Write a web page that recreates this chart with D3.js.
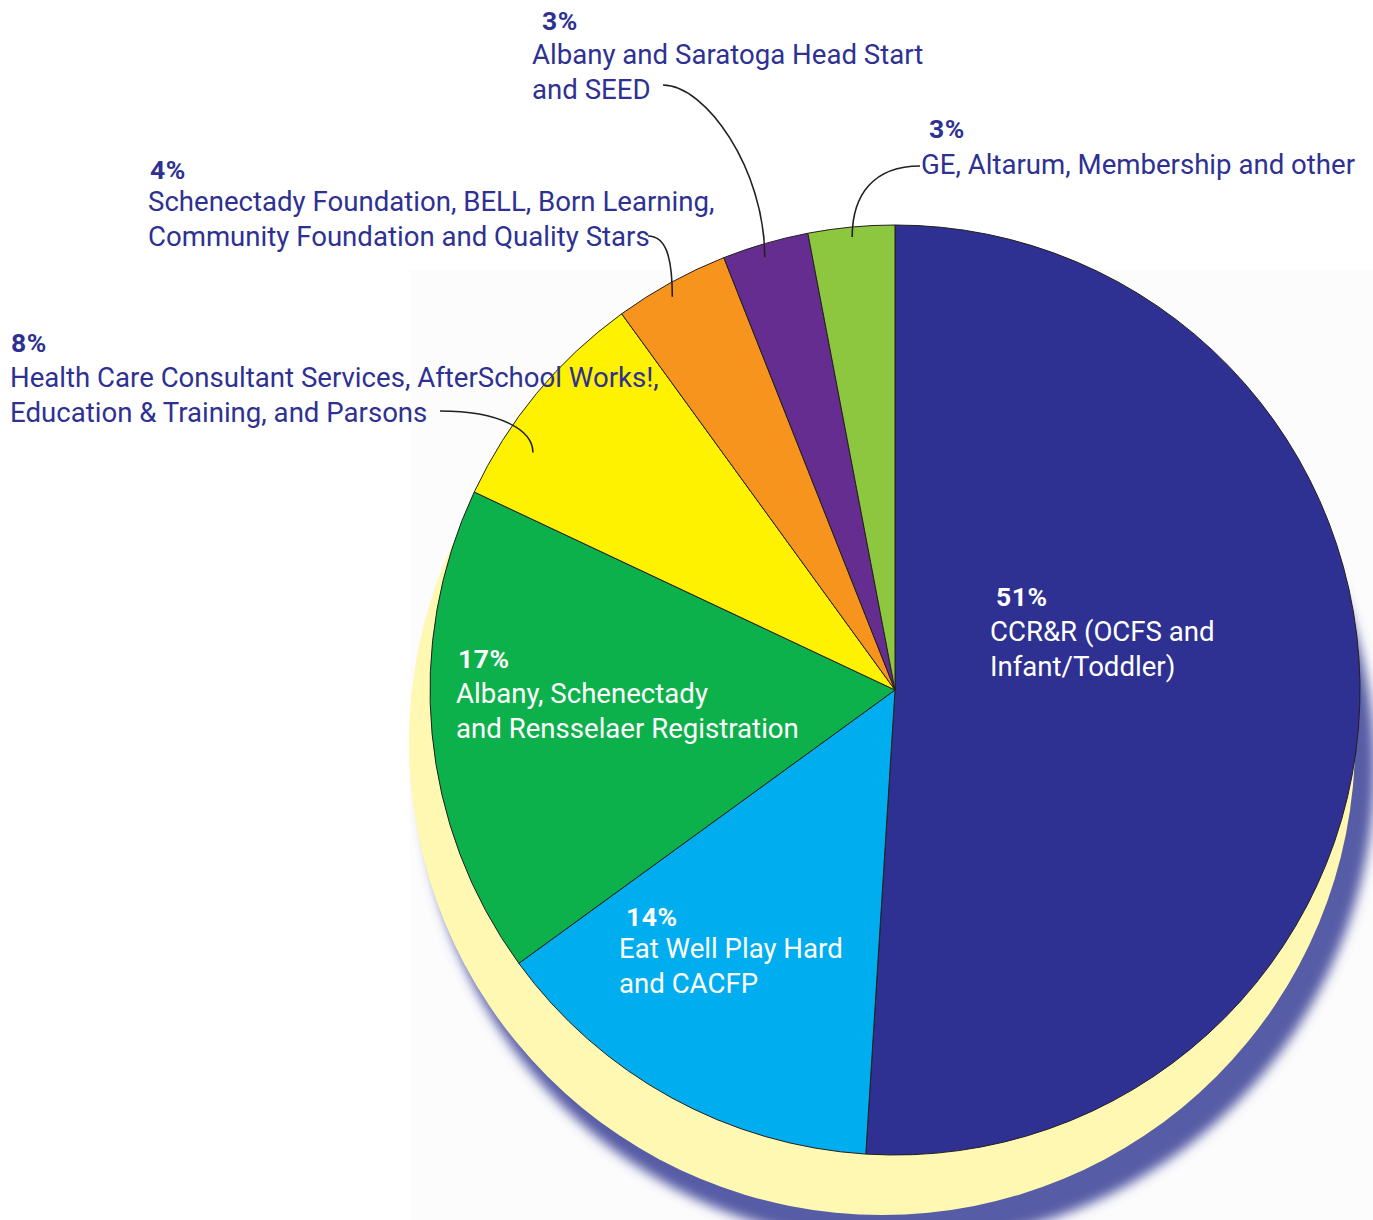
<!DOCTYPE html>
<html>
<head>
<meta charset="utf-8">
<script src="https://cdn.jsdelivr.net/npm/d3@7"></script>
<style>
  html, body { margin: 0; padding: 0; background: #ffffff; }
  svg { display: block; }
  .pct { font-family: Roboto, sans-serif; font-weight: 700; font-size: 26.5px; letter-spacing: 0.6px; }
  .lbl { font-family: Roboto, sans-serif; font-weight: 400; font-size: 27.6px; }
</style>
</head>
<body>
<div id="chart"></div>
<script>
// slices, clockwise from 12 o'clock
const categories = [
  "CCR&R (OCFS and Infant/Toddler)",
  "Eat Well Play Hard and CACFP",
  "Albany, Schenectady and Rensselaer Registration",
  "Health Care Consultant Services, AfterSchool Works!, Education & Training, and Parsons",
  "Schenectady Foundation, BELL, Born Learning, Community Foundation and Quality Stars",
  "Albany and Saratoga Head Start and SEED",
  "GE, Altarum, Membership and other"
];
const values = [51, 14, 17, 8, 4, 3, 3];
const pctLabels = ["51%", "14%", "17%", "8%", "4%", "3%", "3%"];
const labelLines = [
  ["CCR&R (OCFS and", "Infant/Toddler)"],
  ["Eat Well Play Hard", "and CACFP"],
  ["Albany, Schenectady", "and Rensselaer Registration"],
  ["Health Care Consultant Services, AfterSchool Works!,", "Education & Training, and Parsons"],
  ["Schenectady Foundation, BELL, Born Learning,", "Community Foundation and Quality Stars"],
  ["Albany and Saratoga Head Start", "and SEED"],
  ["GE, Altarum, Membership and other"]
];
const colors = ["#2e3192", "#00aeef", "#0db14b", "#fff200", "#f7941d", "#662d91", "#8dc63f"];

// label placement (layout only)
const labelPos = [
  { px: 996, py: 606, x: 990, y: 641, inside: true },
  { px: 626, py: 926, x: 619, y: 958, inside: true },
  { px: 458, py: 668, x: 456, y: 703, inside: true },
  { px: 11, py: 352, x: 10, y: 387, inside: false, lead: { sx: 440, sy: 411, frac: 0.28, r: 433, k1: 0.65, k2: 0.54 } },
  { px: 150, py: 179, x: 148, y: 211, inside: false, lead: { sx: 648, sy: 236, frac: 0.45, r: 452, k1: 0.7, k2: 0.69 } },
  { px: 542, py: 30, x: 532, y: 64, inside: false, lead: { sx: 663, sy: 85, frac: 0.45, r: 452, k1: 0.42, k2: 0.51 } },
  { px: 929, py: 138, x: 921, y: 174, inside: false, lead: { sx: 920, sy: 166, frac: 0.5, r: 455, k1: 0.68, k2: 0.6 } }
];

const width = 1373, height = 1220;
const cx = 895, cy = 690, radius = 465;
const lineStep = 34.5;

const svg = d3.select("#chart").append("svg")
  .attr("width", width)
  .attr("height", height);

const defs = svg.append("defs");
defs.append("filter")
  .attr("id", "soft")
  .attr("x", "-20%").attr("y", "-20%").attr("width", "140%").attr("height", "140%")
  .append("feGaussianBlur")
  .attr("stdDeviation", 6);

// faint page panel behind the pie
svg.append("rect")
  .attr("x", 410).attr("y", 270)
  .attr("width", width - 410).attr("height", height - 270)
  .attr("fill", "#fcfcfd");

// blue drop shadow + pale yellow "base"
svg.append("circle")
  .attr("cx", cx + 3).attr("cy", cy + 77)
  .attr("r", radius + 12)
  .attr("fill", "#575ba5")
  .attr("filter", "url(#soft)");

svg.append("circle")
  .attr("cx", cx - 13).attr("cy", cy + 52)
  .attr("r", radius + 8)
  .attr("fill", "#fff8b2");

const g = svg.append("g").attr("transform", `translate(${cx},${cy})`);

const pie = d3.pie().sort(null).value(d => d)(values);
const arc = d3.arc().innerRadius(0).outerRadius(radius);

g.selectAll("path.slice")
  .data(pie)
  .join("path")
  .attr("class", "slice")
  .attr("d", arc)
  .attr("fill", (d, i) => colors[i])
  .attr("stroke", "#231f20")
  .attr("stroke-width", 1)
  .attr("stroke-linejoin", "round");

// leader lines from outside labels into their slices
labelPos.forEach((p, i) => {
  if (!p.lead) return;
  const s = pie[i];
  const a = s.startAngle + p.lead.frac * (s.endAngle - s.startAngle);
  const ex = cx + p.lead.r * Math.sin(a);
  const ey = cy - p.lead.r * Math.cos(a);
  const sx = p.lead.sx, sy = p.lead.sy;
  const path = d3.path();
  path.moveTo(sx, sy);
  path.bezierCurveTo(sx + p.lead.k1 * (ex - sx), sy, ex, ey - p.lead.k2 * (ey - sy), ex, ey);
  svg.append("path")
    .attr("d", path.toString())
    .attr("fill", "none")
    .attr("stroke", "#231f20")
    .attr("stroke-width", 1.6);
});

// labels
labelPos.forEach((p, i) => {
  const fill = p.inside ? "#ffffff" : "#2e3192";
  svg.append("text")
    .attr("class", "pct")
    .attr("x", p.px).attr("y", p.py)
    .attr("fill", fill)
    .text(pctLabels[i]);
  const t = svg.append("text")
    .attr("class", "lbl")
    .attr("fill", fill);
  labelLines[i].forEach((line, j) => {
    t.append("tspan")
      .attr("x", p.x)
      .attr("y", p.y + j * lineStep)
      .text(line);
  });
});
</script>
</body>
</html>
